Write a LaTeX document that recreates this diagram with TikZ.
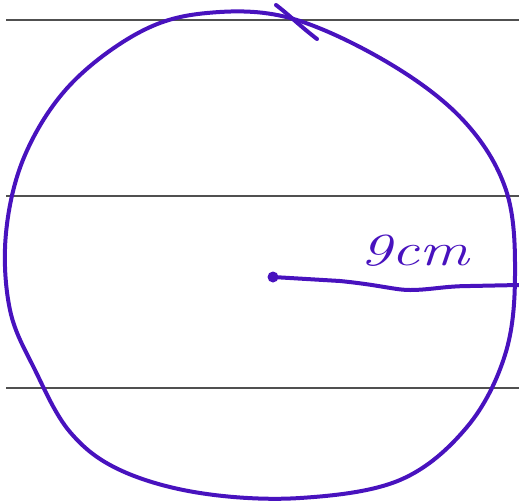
\documentclass[tikz,border=0pt]{standalone}
\usetikzlibrary{calc}
\definecolor{ink}{RGB}{72,18,190}
\definecolor{rule}{RGB}{80,80,80}
\tikzset{
  pen/.style={draw=ink, line width=4pt, line cap=round, line join=round},
  ruling/.style={draw=rule, line width=2pt},
}
\begin{document}
\begin{tikzpicture}[x=1pt,y=-1pt]
\useasboundingbox (0,0) rectangle (519,501);
% ruled lines
\draw[ruling] (6,20) -- (519,20);
\draw[ruling] (6,196) -- (519,196);
\draw[ruling] (6,388) -- (519,388);
% circle
\draw[pen] plot[smooth cycle, tension=0.6] coordinates {
 (207,13) (290,18) (387,62) (463,120) (506,190) (515,275) (505,355)
 (467,427) (400,480) (300,498) (200,493) (120,470) (70,432) (35,370)
 (10,310) (6,233) (25,155) (70,85) (140,32)};
% tail at top
\draw[pen] (276,5) .. controls (288,14) and (300,26) .. (317,39);
% radius
\coordinate (c) at (273,277);
\coordinate (e) at (519,285);
\fill[ink] (c) circle (5.5);
\draw[pen] (c) -- (340,281) .. controls (380,285) and (395,290) .. (410,290)
  .. controls (430,290) and (445,286) .. (470,286) -- (e);
% label
\node[text=ink, font=\fontsize{46}{46}\selectfont\itshape, xscale=1.35, transform shape] (lbl) at (415,251) {9cm};
\end{tikzpicture}
\end{document}
